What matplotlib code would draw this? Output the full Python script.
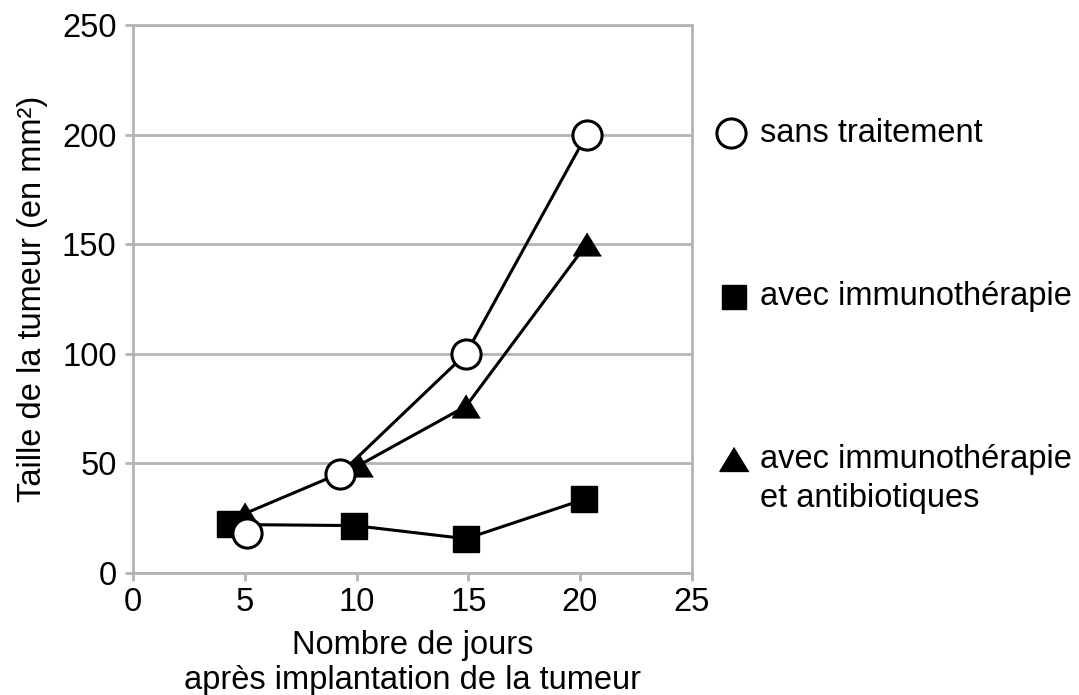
import matplotlib
matplotlib.use("Agg")
import matplotlib.pyplot as plt

plt.rcParams["font.family"] = ["Liberation Sans", "DejaVu Sans"]

# jours après implantation / taille de la tumeur (mm²)
jours_sans = [5.1, 9.25, 14.9, 20.3]
taille_sans = [18, 45, 100, 200]

jours_immuno = [4.35, 9.9, 14.9, 20.2]
taille_immuno = [22, 21.5, 15.5, 33.5]

jours_immuno_ab = [5.0, 10.1, 14.9, 20.3]
taille_immuno_ab = [27, 49, 76, 150]

legend_labels = ["sans traitement", "avec immunothérapie",
                 "avec immunothérapie\net antibiotiques"]

GRIS = "#b4b4b4"
FS = 23.5
TRI = [(0, 0.82), (-1, -0.82), (1, -0.82)]

fig = plt.figure(figsize=(10.79, 6.95), dpi=100, facecolor="white")
ax = fig.add_axes([0.1235, 0.176, 0.5175, 0.788])

ax.plot(jours_immuno, taille_immuno, color="black", lw=2.2, marker="s",
        ms=18.5, mfc="black", mec="black", zorder=3)
ax.plot(jours_immuno_ab, taille_immuno_ab, color="black", lw=2.2, marker=TRI,
        ms=20, mfc="black", mec="black", zorder=4)
# le premier point "sans traitement" n'est pas relié dans l'original
ax.plot(jours_sans[1:], taille_sans[1:], color="black", lw=2.2, zorder=5)
ax.plot(jours_sans, taille_sans, ls="none", marker="o",
        ms=21, mfc="white", mec="black", mew=2.2, zorder=6)

ax.set_xlim(0, 25)
ax.set_ylim(0, 250)
ax.set_xticks(range(0, 26, 5))
ax.set_yticks(range(0, 251, 50))
ax.yaxis.grid(True, color=GRIS, lw=2)
ax.set_axisbelow(True)
for s in ax.spines.values():
    s.set_color(GRIS)
    s.set_linewidth(2)
ax.tick_params(colors=GRIS, width=2, length=6, labelsize=FS, labelcolor="black")
ax.tick_params(axis="x", pad=4)
ax.tick_params(axis="y", pad=6)

ax.set_ylabel("Taille de la tumeur (en mm²)", fontsize=FS, labelpad=10)
ax.set_xlabel("Nombre de jours\naprès implantation de la tumeur", fontsize=FS,
              labelpad=9, linespacing=1.15)

# légende manuelle à droite
leg_x = [26.75, 26.9, 26.9]
leg_y = [200.5, 126, 51.7]
leg_markers = [dict(marker="o", ms=21, mfc="white", mec="black", mew=2.2),
               dict(marker="s", ms=17.5, mfc="black", mec="black"),
               dict(marker=TRI, ms=21, mfc="black", mec="black")]
line_step = 18  # écart entre lignes d'une étiquette, en unités de données
for x, y, m, lab in zip(leg_x, leg_y, leg_markers, legend_labels):
    ax.plot([x], [y], ls="none", clip_on=False, **m)
    for i, part in enumerate(lab.split("\n")):
        ax.text(28.05, y - i * line_step, part, fontsize=FS, va="center",
                ha="left", clip_on=False)

fig.savefig("out.png", dpi=100, facecolor="white")
